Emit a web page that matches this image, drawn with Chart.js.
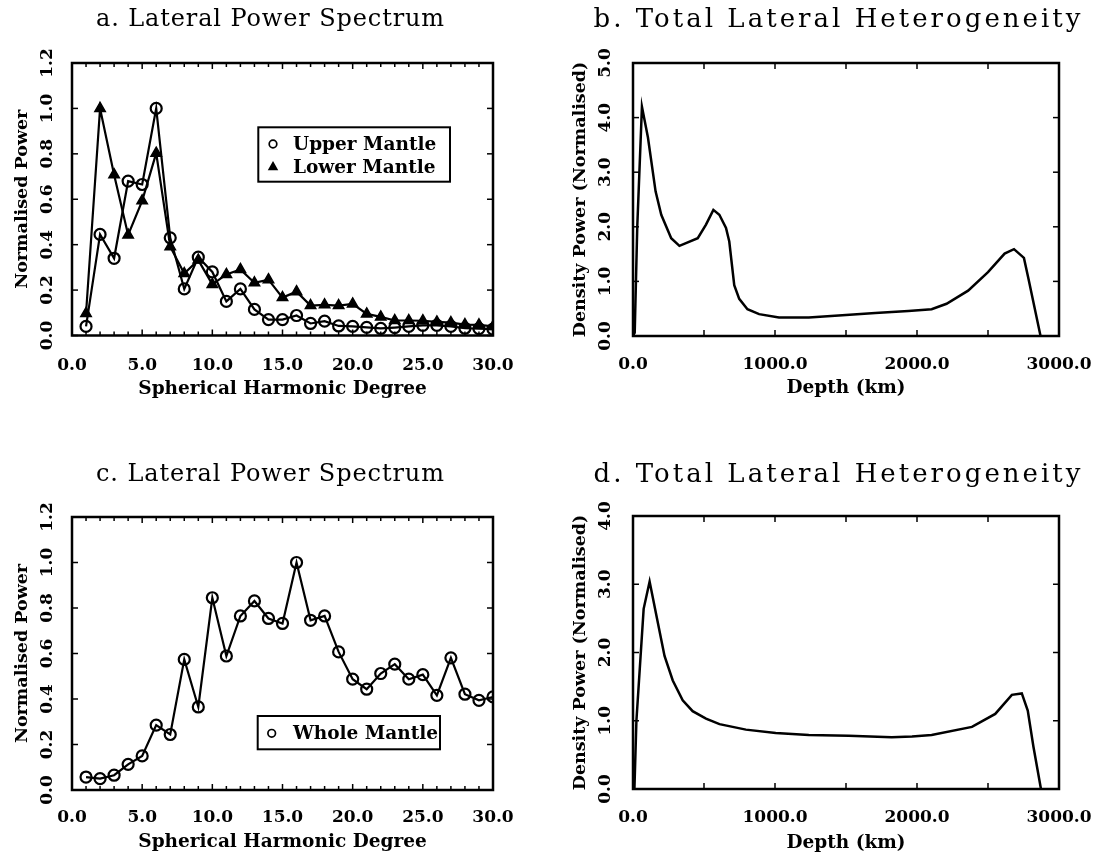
<!DOCTYPE html>
<html><head><meta charset="utf-8">
<script src="https://cdn.jsdelivr.net/npm/chart.js@4.4.0/dist/chart.umd.min.js"></script>
<style>
html,body{margin:0;padding:0;background:#fff;}
#wrap{position:relative;width:1096px;height:859px;overflow:hidden;background:#fff}
canvas{position:absolute}
</style></head><body>
<div id="wrap">
<canvas id="ca" width="548" height="430" style="left:0;top:0"></canvas>
<canvas id="cb" width="548" height="430" style="left:548px;top:0"></canvas>
<canvas id="cc" width="548" height="429" style="left:0;top:430px"></canvas>
<canvas id="cd" width="548" height="429" style="left:548px;top:430px"></canvas>
</div>
<script>
// ---------- data ----------
const degrees = [1,2,3,4,5,6,7,8,9,10,11,12,13,14,15,16,17,18,19,20,21,22,23,24,25,26,27,28,29,30];
const upperMantle = [0.04,0.445,0.34,0.68,0.665,1.0,0.43,0.205,0.345,0.28,0.15,0.205,0.115,0.07,0.07,0.088,0.053,0.063,0.042,0.04,0.036,0.031,0.035,0.04,0.045,0.045,0.04,0.032,0.03,0.028];
const lowerMantle = [0.097,1.0,0.708,0.443,0.593,0.803,0.391,0.273,0.332,0.225,0.269,0.291,0.232,0.246,0.167,0.193,0.132,0.135,0.132,0.139,0.095,0.082,0.066,0.066,0.065,0.06,0.057,0.048,0.047,0.04];
const wholeMantle = [0.057,0.05,0.065,0.113,0.15,0.285,0.244,0.574,0.365,0.845,0.589,0.765,0.831,0.754,0.732,1.0,0.746,0.765,0.607,0.487,0.443,0.512,0.553,0.487,0.507,0.416,0.581,0.421,0.394,0.409];
const depthB = [0,12,30,63,105,159,199,269,327,456,514,566,608,655,678,713,748,806,888,1028,1238,1474,1706,1939,2103,2208,2360,2500,2617,2683,2753,2785,2870];
const powerB = [0,0.06,2.0,4.2,3.64,2.65,2.22,1.79,1.65,1.79,2.04,2.31,2.22,1.98,1.73,0.93,0.68,0.49,0.40,0.34,0.34,0.38,0.42,0.46,0.49,0.59,0.83,1.17,1.51,1.59,1.43,1.05,0];
const depthD = [10,24,75,117,163,222,280,350,420,514,609,795,1005,1238,1519,1822,1965,2103,2387,2551,2668,2738,2780,2820,2873];
const powerD = [0,1.0,2.64,3.04,2.56,1.95,1.59,1.30,1.14,1.03,0.95,0.87,0.82,0.79,0.78,0.76,0.77,0.79,0.91,1.10,1.38,1.40,1.15,0.62,0];
const titles = ['a. Lateral Power Spectrum','b. Total Lateral Heterogeneity','c. Lateral Power Spectrum','d. Total Lateral Heterogeneity'];
const xTitles = ['Spherical Harmonic Degree','Depth (km)'];
const yTitles = ['Normalised Power','Density Power (Normalised)'];

const FAM = "'DejaVu Serif', 'Liberation Serif', serif";
const pts = (xs, ys) => xs.map((x, i) => ({x: x, y: ys[i]}));

// ---------- plugins: heading, box frame with inward ticks, boxed legend ----------
const heading = {
  id: 'heading',
  afterDraw(chart, args, o) {
    if (!o.text) return;
    const ctx = chart.ctx;
    ctx.save();
    const fontStr = o.size + 'px ' + FAM;
    ctx.font = fontStr;
    const w0 = ctx.measureText(o.text).width;
    let ls = 0;
    if ('letterSpacing' in ctx) {
      ls = Math.max(0, (o.width - w0) / o.text.length);
      ctx.letterSpacing = ls.toFixed(2) + 'px';
    }
    ctx.font = fontStr;
    ctx.fillStyle = '#000';
    ctx.textBaseline = 'middle';
    ctx.textAlign = 'left';
    const total = w0 + ls * o.text.length;
    ctx.fillText(o.text, o.cx - total / 2, o.cy);
    ctx.restore();
  }
};

const frame = {
  id: 'frame',
  afterDraw(chart, args, o) {
    const {ctx, chartArea: a, scales: {x, y}} = chart;
    ctx.save();
    ctx.strokeStyle = '#000';
    ctx.lineCap = 'butt';
    const seg = (x1, y1, x2, y2) => { ctx.beginPath(); ctx.moveTo(x1, y1); ctx.lineTo(x2, y2); ctx.stroke(); };
    ctx.lineWidth = 1.5;
    const nx = Math.round((x.max - x.min) / o.xStep);
    for (let i = 0; i <= nx; i++) {
      const v = x.min + i * o.xStep;
      const major = Math.abs(v / o.xMajor - Math.round(v / o.xMajor)) < 1e-6;
      const len = major ? 6 : 4;
      const px = x.getPixelForValue(v);
      seg(px, a.bottom, px, a.bottom - len);
      seg(px, a.top, px, a.top + len);
    }
    const ny = Math.round((y.max - y.min) / o.yStep);
    for (let i = 0; i <= ny; i++) {
      const py = y.getPixelForValue(y.min + i * o.yStep);
      seg(a.left, py, a.left + 6, py);
      seg(a.right, py, a.right - 6, py);
    }
    ctx.lineWidth = 2.5;
    ctx.strokeRect(a.left, a.top, a.right - a.left, a.bottom - a.top);
    ctx.restore();
  }
};

const boxLegend = {
  id: 'boxLegend',
  afterDraw(chart, args, o) {
    if (!o.box) return;
    const ctx = chart.ctx;
    ctx.save();
    ctx.fillStyle = '#fff';
    ctx.fillRect(o.box.x, o.box.y, o.box.w, o.box.h);
    ctx.strokeStyle = '#000';
    ctx.lineWidth = 2;
    ctx.strokeRect(o.box.x, o.box.y, o.box.w, o.box.h);
    ctx.font = 'bold 18.5px ' + FAM;
    ctx.textBaseline = 'middle';
    ctx.textAlign = 'left';
    ctx.fillStyle = '#000';
    chart.data.datasets.forEach((ds, i) => {
      const cy = o.rows[i];
      const mx = o.markerX;
      ctx.lineWidth = 1.7;
      if (ds.pointStyle === 'triangle') {
        const r = 4;
        ctx.beginPath();
        ctx.moveTo(mx, cy - r);
        ctx.lineTo(mx + r * 0.95, cy + r * 0.7);
        ctx.lineTo(mx - r * 0.95, cy + r * 0.7);
        ctx.closePath();
        ctx.fill();
        ctx.stroke();
      } else {
        ctx.beginPath();
        ctx.arc(mx, cy, 3.8, 0, Math.PI * 2);
        ctx.stroke();
      }
      ctx.fillText(ds.label, o.textX, cy + 1);
    });
    ctx.restore();
  }
};

// ---------- option builder ----------
function makeOptions(g) {
  return {
    responsive: false,
    animation: false,
    devicePixelRatio: 1,
    layout: {padding: {left: g.pl, right: g.pr, top: g.pt, bottom: g.pb}},
    elements: {line: {tension: 0}},
    plugins: {
      legend: {display: false},
      tooltip: {enabled: false},
      title: {display: false},
      heading: g.heading,
      frame: g.frame,
      boxLegend: g.legend || {}
    },
    scales: {
      x: {
        type: 'linear', min: g.xMin, max: g.xMax,
        afterFit(s) { s.height = g.hx; s.paddingLeft = 0; s.paddingRight = 0; },
        grid: {display: false, drawTicks: false},
        border: {display: false},
        ticks: {stepSize: g.xStepLabel, maxRotation: 0, minRotation: 0, padding: g.xTickPad, color: '#000',
                font: {family: FAM, size: 17, weight: 'bold', lineHeight: 1.2},
                callback: v => Number(v).toFixed(1)},
        title: {display: true, text: g.xTitle, color: '#000', padding: 0,
                font: {family: FAM, size: 18.5, weight: 'bold', lineHeight: 1.2}}
      },
      y: {
        type: 'linear', min: g.yMin, max: g.yMax,
        afterFit(s) { s.width = g.wy; s.paddingTop = 0; s.paddingBottom = 0; },
        grid: {display: false, drawTicks: false},
        border: {display: false},
        ticks: {stepSize: g.yStepLabel, minRotation: 90, maxRotation: 90, crossAlign: 'center', padding: g.yTickPad, color: '#000',
                font: {family: FAM, size: 17, weight: 'bold', lineHeight: 1.2},
                callback: v => Number(v).toFixed(1)},
        title: {display: true, text: g.yTitle, color: '#000', padding: 0,
                font: {family: FAM, size: 17.5, weight: 'bold', lineHeight: 1.2}}
      }
    }
  };
}

const lineStyle = {borderColor: '#000', borderWidth: 2.2, fill: false, pointBorderColor: '#000', pointHitRadius: 0};

// a
new Chart(document.getElementById('ca'), {
  type: 'line',
  data: {datasets: [
    Object.assign({label: 'Upper Mantle', data: pts(degrees, upperMantle), pointStyle: 'circle', pointRadius: 5.5,
                   pointBorderWidth: 2.2, pointBackgroundColor: 'rgba(255,255,255,0)'}, lineStyle),
    Object.assign({label: 'Lower Mantle', data: pts(degrees, lowerMantle), pointStyle: 'triangle', pointRadius: 6,
                   pointBorderWidth: 1.5, pointBackgroundColor: '#000'}, lineStyle)
  ]},
  options: makeOptions({pl: 11.5, pr: 55, pt: 63, pb: 29.9,
    hx: 64.6, wy: 60.5, xTickPad: 20.3, yTickPad: 9.7, xMin: 0, xMax: 30, xStepLabel: 5, yMin: 0, yMax: 1.2, yStepLabel: 0.2,
    xTitle: xTitles[0], yTitle: yTitles[0],
    heading: {text: titles[0], cx: 270.5, cy: 20, width: 349, size: 24},
    frame: {xStep: 1, xMajor: 5, yStep: 0.2},
    legend: {box: {x: 258.3, y: 127.3, w: 191.7, h: 54.4}, rows: [144, 166.7], markerX: 273, textX: 293}}),
  plugins: [frame, boxLegend, heading]
});

// b
new Chart(document.getElementById('cb'), {
  type: 'line',
  data: {datasets: [
    Object.assign({label: 'Density Power', data: pts(depthB, powerB), pointRadius: 0}, lineStyle, {borderWidth: 2.5})
  ]},
  options: makeOptions({pl: 21.5, pr: 37, pt: 63, pb: 30.9,
    hx: 63.1, wy: 63.5, xTickPad: 18.8, yTickPad: 12.7, xMin: 0, xMax: 3000, xStepLabel: 1000, yMin: 0, yMax: 5, yStepLabel: 1,
    xTitle: xTitles[1], yTitle: yTitles[1],
    heading: {text: titles[1], cx: 290.5, cy: 20, width: 490, size: 26},
    frame: {xStep: 500, xMajor: 500, yStep: 1}}),
  plugins: [frame, heading]
});

// c
new Chart(document.getElementById('cc'), {
  type: 'line',
  data: {datasets: [
    Object.assign({label: 'Whole Mantle', data: pts(degrees, wholeMantle), pointStyle: 'circle', pointRadius: 5.5,
                   pointBorderWidth: 2.2, pointBackgroundColor: 'rgba(255,255,255,0)'}, lineStyle)
  ]},
  options: makeOptions({pl: 11.5, pr: 55, pt: 87, pb: 5.9,
    hx: 63.1, wy: 60.5, xTickPad: 17.8, yTickPad: 9.7, xMin: 0, xMax: 30, xStepLabel: 5, yMin: 0, yMax: 1.2, yStepLabel: 0.2,
    xTitle: xTitles[0], yTitle: yTitles[0],
    heading: {text: titles[2], cx: 270.5, cy: 45, width: 349, size: 24},
    frame: {xStep: 1, xMajor: 5, yStep: 0.2},
    legend: {box: {x: 257.7, y: 286, w: 182.3, h: 33.3}, rows: [303.3], markerX: 271.7, textX: 293}}),
  plugins: [frame, boxLegend, heading]
});

// d
new Chart(document.getElementById('cd'), {
  type: 'line',
  data: {datasets: [
    Object.assign({label: 'Density Power', data: pts(depthD, powerD), pointRadius: 0}, lineStyle, {borderWidth: 2.5})
  ]},
  options: makeOptions({pl: 21.5, pr: 37, pt: 86, pb: 4.9,
    hx: 65.1, wy: 63.5, xTickPad: 18.8, yTickPad: 12.7, xMin: 0, xMax: 3000, xStepLabel: 1000, yMin: 0, yMax: 4, yStepLabel: 1,
    xTitle: xTitles[1], yTitle: yTitles[1],
    heading: {text: titles[3], cx: 290.5, cy: 45, width: 490, size: 26},
    frame: {xStep: 500, xMajor: 500, yStep: 1}}),
  plugins: [frame, heading]
});
</script>
</body></html>
